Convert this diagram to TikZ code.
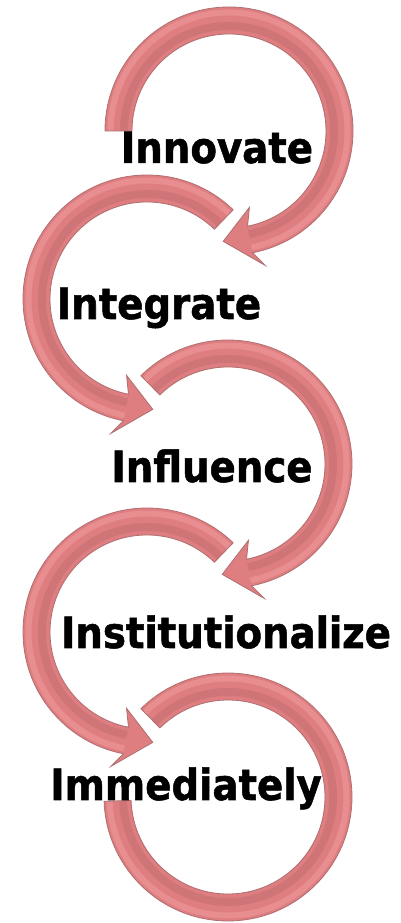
\documentclass[tikz,border=0pt]{standalone}
\usepackage{fontspec}
\newfontfamily\labelfont{DejaVu Sans Condensed}[BoldFeatures={FakeBold=1.2}]
\definecolor{ringpink}{RGB}{222,126,129}
\definecolor{ringedge}{RGB}{176,110,112}
\definecolor{ringlight}{RGB}{238,150,153}
\definecolor{ringdark}{RGB}{196,110,114}
\tikzset{
  ringfill/.style={fill=ringpink},
  ringline/.style={draw=ringedge, line width=0.8pt, line join=miter},
  lightband/.style={draw=ringlight, line width=6pt, opacity=0.65},
  darkband/.style={draw=ringdark, line width=8pt, opacity=0.55},
  lbl/.style={font=\labelfont\bfseries\fontsize{43}{43}\selectfont, inner sep=0pt, anchor=base, text=black}
}
% clockwise ring arrow, tail angle #1, head at bottom pointing left
\newcommand{\shapeCW}[1]{(#1:124pt) arc[start angle=#1, end angle=-79, radius=124pt]
    -- (-75:139pt) -- (-93:110.5pt) -- (-75:79pt) -- (-79:97pt)
    arc[start angle=-79, end angle=#1, radius=97pt] -- cycle}
\newcommand{\ringCW}[1]{%
  \path[ringfill] \shapeCW{#1};
  \draw[lightband] (#1:118.5pt) arc[start angle=#1, end angle=-79, radius=118.5pt];
  \draw[darkband] (#1:105pt) arc[start angle=#1, end angle=-79, radius=105pt];
  \path[ringline] \shapeCW{#1};}
% counter-clockwise ring arrow, tail angle 46, head at bottom pointing right
\newcommand{\shapeCCW}{(46:124pt) arc[start angle=46, end angle=259, radius=124pt]
    -- (255:139pt) -- (273:110.5pt) -- (255:79pt) -- (259:97pt)
    arc[start angle=259, end angle=46, radius=97pt] -- cycle}
\newcommand{\ringCCW}{%
  \path[ringfill] \shapeCCW;
  \draw[lightband] (46:118.5pt) arc[start angle=46, end angle=259, radius=118.5pt];
  \draw[darkband] (46:105pt) arc[start angle=46, end angle=259, radius=105pt];
  \path[ringline] \shapeCCW;}
\newcommand{\shapeLast}{(134.6:124pt) arc[start angle=134.6, end angle=-178, radius=124pt]
    -- (-178:97pt) arc[start angle=-178, end angle=134.6, radius=97pt] -- cycle}
\begin{document}
\begin{tikzpicture}[x=1pt,y=1pt]
\useasboundingbox[fill=white] (0,0) rectangle (400,923);
% ring 1
\begin{scope}[shift={(229,792)}]
  \ringCW{180}
\end{scope}
% ring 2
\begin{scope}[shift={(147,624)}]
  \ringCCW
\end{scope}
% ring 3
\begin{scope}[shift={(228,459)}]
  \ringCW{134.6}
\end{scope}
% ring 4
\begin{scope}[shift={(147,291)}]
  \ringCCW
\end{scope}
% ring 5
\begin{scope}[shift={(228,126)}]
  \path[ringfill] \shapeLast;
  \draw[lightband] (134.6:118.5pt) arc[start angle=134.6, end angle=-178, radius=118.5pt];
  \draw[darkband] (134.6:105pt) arc[start angle=134.6, end angle=-178, radius=105pt];
  \path[ringline] \shapeLast;
\end{scope}
% labels
\node[lbl] (innovate) at (217,760) {Innovate};
\node[lbl] (integrate) at (159,604) {Integrate};
\node[lbl] (influence) at (212,441) {Influence};
\node[lbl] (institutionalize) at (226,275) {Institutionalize};
\node[lbl] (immediately) at (186,123) {Immediately};
\end{tikzpicture}
\end{document}
